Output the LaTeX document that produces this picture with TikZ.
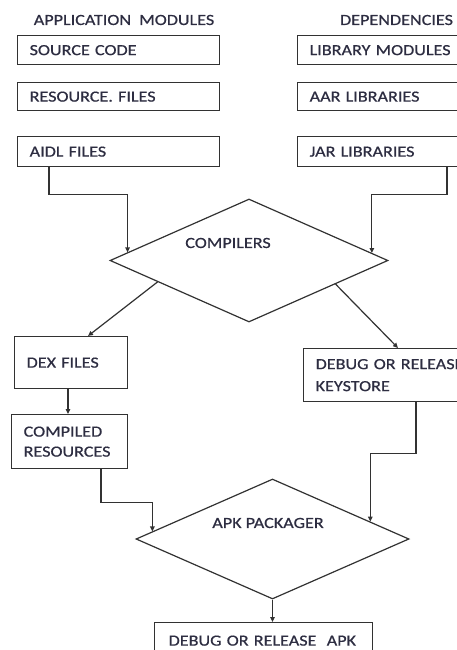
\documentclass[tikz,border=0pt]{standalone}
\usepackage{fontspec}
\setmainfont{Carlito}[FakeStretch=1.17,FakeBold=0.6]
\usetikzlibrary{shapes.geometric,arrows.meta,calc}
\definecolor{lc}{RGB}{50,50,50}
\definecolor{tc}{RGB}{45,45,65}
\newcommand{\boxfont}{\fontsize{15.5}{22}\selectfont}
\begin{document}
\begin{tikzpicture}[x=1pt,y=-1pt,
  box/.style={draw=lc, line width=1.3pt, anchor=north west, inner xsep=12pt, inner ysep=0pt, align=left, font=\boxfont, text=tc},
  hdr/.style={font=\boxfont, text=tc, inner sep=0pt},
  conn/.style={draw=lc, line width=1.2pt},
  arr/.style={conn, -{Triangle[length=5pt,width=4.5pt]}},
  dia/.style={diamond, draw=lc, line width=1.2pt, inner sep=0pt},
  lbl/.style={font=\boxfont, text=tc, inner sep=0pt}]
\useasboundingbox (0,0) rectangle (457,650);
\fill[white] (0,0) rectangle (457,650);
\clip (0,0) rectangle (457,650);

% headers
\node[hdr] (h1) at (124,20) {APPLICATION~ MODULES};
\node[hdr] (h2) at (396.5,20) {DEPENDENCIES};

% left column
\node[box, text width=178pt, minimum height=29pt] (src) at (17,35) {SOURCE CODE};
\node[box, text width=178pt, minimum height=28pt] (res) at (17,82) {RESOURCE. FILES};
\node[box, text width=178pt, minimum height=30pt] (aidl) at (17,136) {AIDL FILES};

% right column
\node[box, text width=146pt, minimum height=29pt] (lib) at (297,35) {LIBRARY MODULES};
\node[box, text width=146pt, minimum height=28pt] (aar) at (297,82) {AAR LIBRARIES};
\node[box, text width=146pt, minimum height=30pt] (jar) at (297,136) {JAR LIBRARIES};

% compilers
\node[dia, minimum width=278pt, minimum height=123pt,
  label={[lbl, xshift=-21pt, yshift=17.5pt]center:COMPILERS}] (comp) at (249,260.5) {};

\node[box, text width=89pt, minimum height=52pt] (dex) at (14,336) {DEX FILES};
\node[box, text width=92pt, minimum height=54pt, font=\fontsize{15.5}{20}\selectfont] (cres) at (11,414) {COMPILED\\RESOURCES};
\node[box, text width=170pt, minimum height=53pt] (key) at (303,348) {DEBUG OR RELEASE\\KEYSTORE};

% packager
\node[dia, minimum width=273pt, minimum height=120pt,
  label={[lbl, xshift=-4.5pt, yshift=16pt]center:APK PACKAGER}] (pkg) at (272.5,539) {};

\node[box, inner xsep=14pt, text width=190pt, minimum height=36pt] (out) at (154,622) {DEBUG OR RELEASE~ APK};

% connectors
\draw[arr] ([xshift=32pt]aidl.south west) -- ++(0,27) -| ($(comp.west)!0.13!(comp.north)$);
\draw[arr] ([xshift=150pt]jar.south west) -- ++(0,27) -| ($(comp.east)!0.12!(comp.north)$);
\draw[arr] ($(comp.west)!0.345!(comp.south)$) -- ([xshift=74pt]dex.north west);
\draw[arr] ($(comp.east)!0.38!(comp.south)$) -- ([xshift=95pt]key.north west);
\draw[arr] ([xshift=54pt]dex.south west) -- ([xshift=54pt]dex.south west |- cres.north);
\draw[arr] ([xshift=90pt]cres.south west) -- ++(0,33) -| ($(pkg.west)!0.124!(pkg.north)$);
\draw[arr] ([xshift=113pt]key.south west) -- ++(0,51) -| ($(pkg.east)!0.287!(pkg.north)$);
\draw[arr] (pkg.south) -- (pkg.south |- out.north);
\end{tikzpicture}
\end{document}
